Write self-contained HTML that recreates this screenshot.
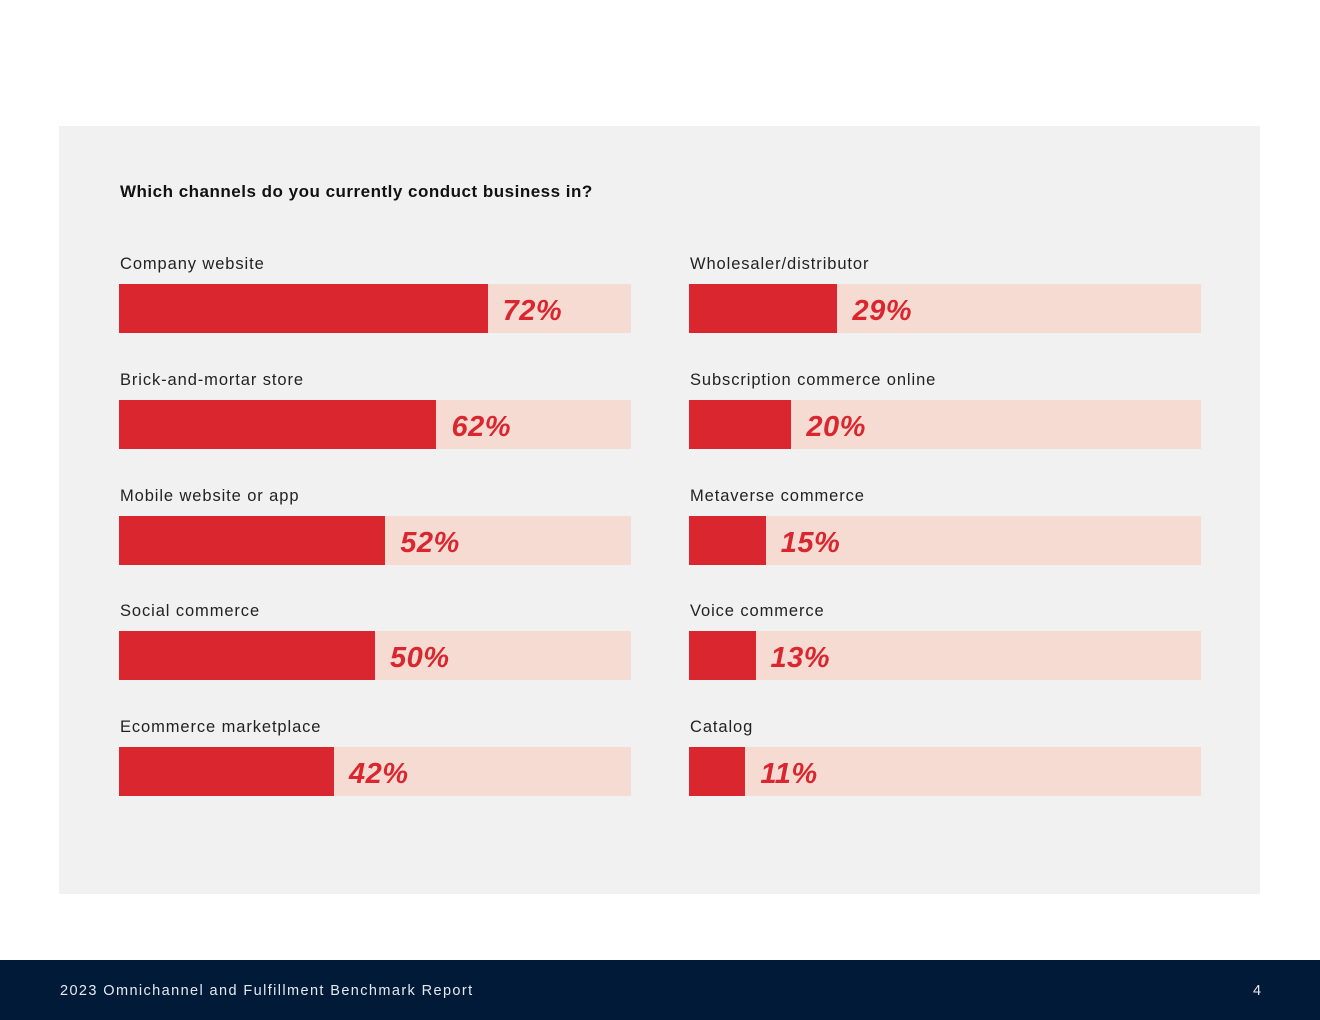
<!DOCTYPE html>
<html><head><meta charset="utf-8"><style>
body{margin:0;width:1320px;height:1020px;background:#fff;position:relative;font-family:"Liberation Sans",sans-serif;overflow:hidden}
#panel{position:absolute;left:59px;top:126px;width:1201px;height:768px;background:#f1f1f1}
#title{position:absolute;left:120px;top:182px;font-size:17px;font-weight:bold;color:#111;letter-spacing:0.5px}
.lbl{position:absolute;font-size:16.5px;color:#222;letter-spacing:0.9px}
.track{position:absolute;height:49px;background:#f6dbd2}
.fill{position:absolute;left:0;top:0;height:49px;background:#da262e}
.val{position:absolute;top:11px;font-size:29px;font-weight:bold;font-style:italic;color:#da262e;letter-spacing:0.5px}
#footer{position:absolute;left:0;top:960px;width:1320px;height:60px;background:#001a38;color:#e6e9f0;font-size:14.5px;letter-spacing:1.4px}
</style></head><body>
<div id="panel"></div>
<div id="title">Which channels do you currently conduct business in?</div>
<div id="chart"></div>
<div id="footer">
<span style="position:absolute;left:60px;top:23px">2023 Omnichannel and Fulfillment Benchmark Report</span>
<span style="position:absolute;left:1253px;top:23px">4</span>
</div>
<script>
const leftCategories=["Company website","Brick-and-mortar store","Mobile website or app","Social commerce","Ecommerce marketplace"];
const leftValues=[72,62,52,50,42];
const rightCategories=["Wholesaler/distributor","Subscription commerce online","Metaverse commerce","Voice commerce","Catalog"];
const rightValues=[29,20,15,13,11];
const W=512, x=v=>v/100*W;
const chart=document.getElementById('chart');
function draw(cats,vals,left,side){
  cats.forEach((c,i)=>{
    const top=284+i*115.75;
    const l=document.createElement('div');l.className='lbl';
    
    
    l.style.left=(left+1)+'px';l.style.top=(top-29)+'px';l.textContent=c;chart.appendChild(l);
    const t=document.createElement('div');t.className='track';
    
    
    t.style.left=left+'px';t.style.top=top+'px';t.style.width=W+'px';
    const f=document.createElement('div');f.className='fill';
    
    
    f.style.width=x(vals[i])+'px';t.appendChild(f);
    const v=document.createElement('div');v.className='val';
    
    
    v.style.left=(x(vals[i])+15)+'px';v.textContent=vals[i]+'%';t.appendChild(v);
    chart.appendChild(t);
  });
}
draw(leftCategories,leftValues,119,'left');
draw(rightCategories,rightValues,689,'right');
</script>
</body></html>
